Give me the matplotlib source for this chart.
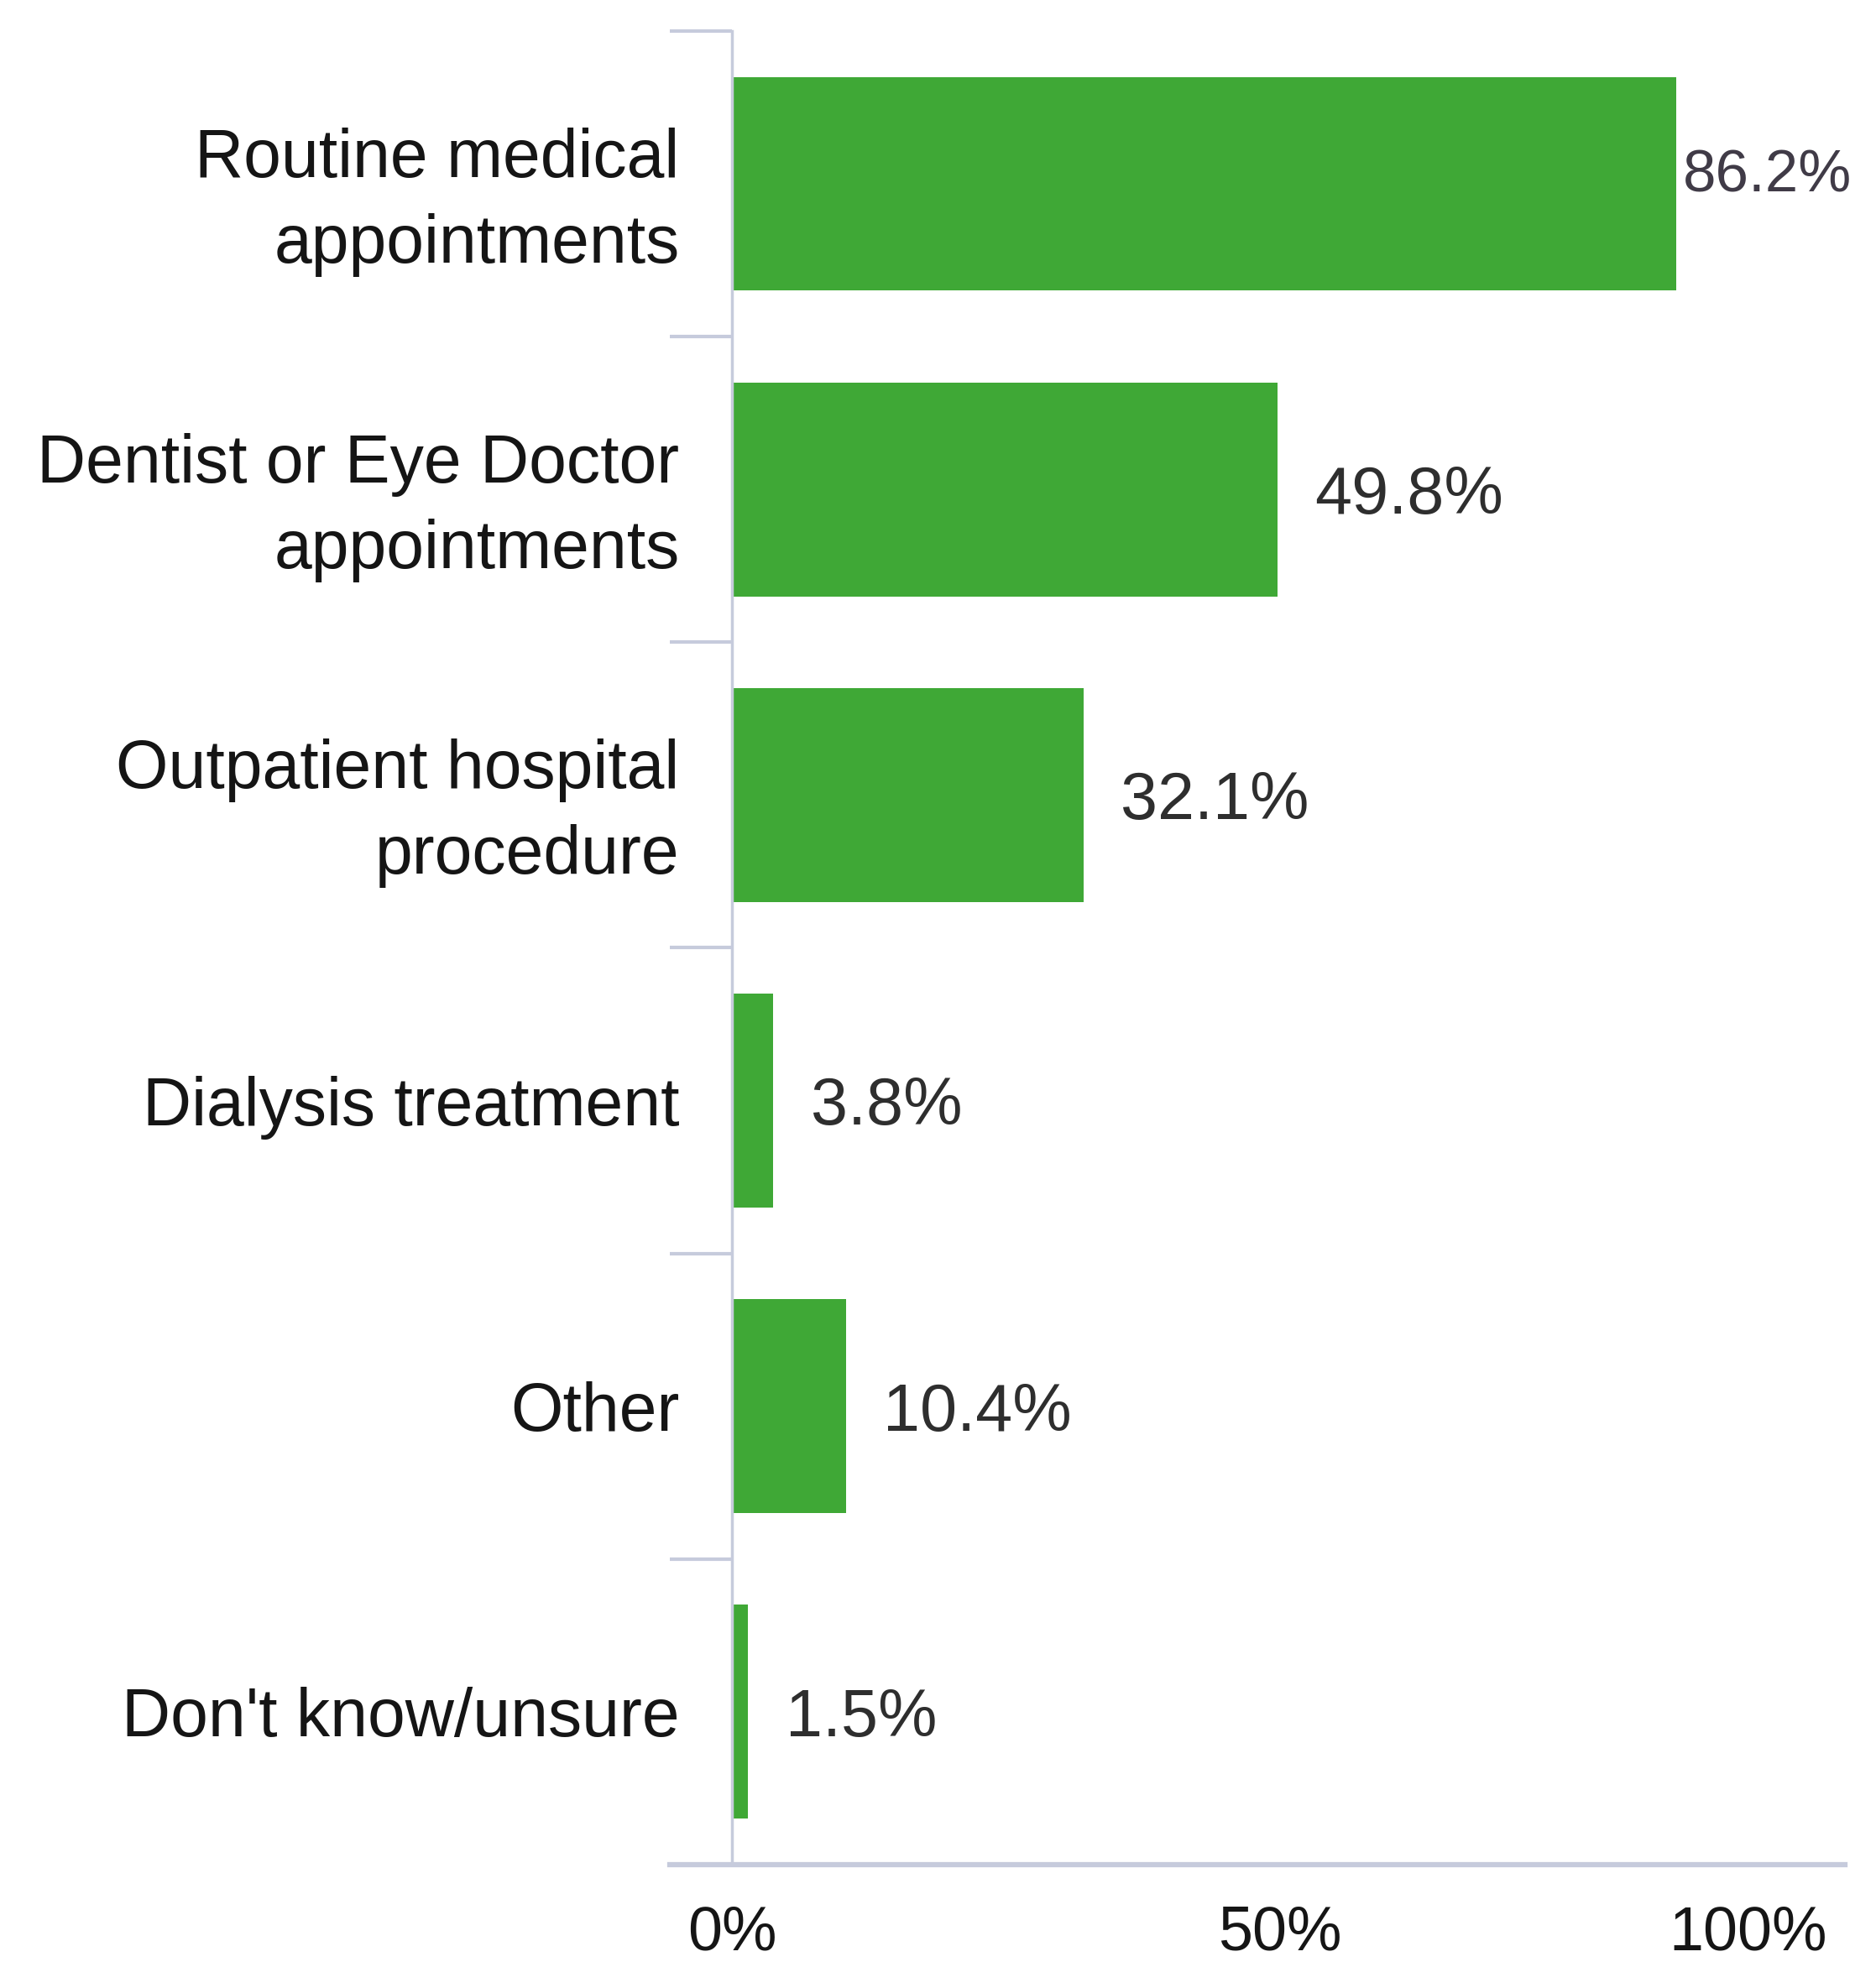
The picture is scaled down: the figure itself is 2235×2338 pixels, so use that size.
import matplotlib
matplotlib.use("Agg")
import matplotlib.pyplot as plt
import numpy as np

# Survey responses (share of respondents, %)
categories = [
    "Routine medical\nappointments",
    "Dentist or Eye Doctor\nappointments",
    "Outpatient hospital\nprocedure",
    "Dialysis treatment",
    "Other",
    "Don't know/unsure",
]
values = [86.2, 49.8, 32.1, 3.8, 10.4, 1.5]
value_labels = ["86.2%", "49.8%", "32.1%", "3.8%", "10.4%", "1.5%"]
x_ticks = [0, 50, 100]
x_tick_labels = ["0%", "50%", "100%"]

BAR_COLOR = "#3fa836"
AXIS_COLOR = "#c6cbdc"
FONT = ["Liberation Sans", "DejaVu Sans"]

plt.rcParams["font.family"] = FONT

fig = plt.figure(figsize=(22.35, 23.38), dpi=100)
ax = fig.add_axes([0.357, 0.0496, 0.6264, 0.9346])

y = np.arange(len(categories))
ax.barh(y, values, height=0.70, color=BAR_COLOR, zorder=2)

ax.set_xlim(-5.67, 101.6)
ax.set_ylim(len(categories) - 0.5, -0.5)

# value labels next to each bar
for i, (v, lab) in enumerate(zip(values, value_labels)):
    if v > 80:
        # squeezed in at the right edge, a bit smaller and higher
        ax.annotate(lab, (v, i), xytext=(6, 6), textcoords="offset points",
                    ha="left", va="center", fontsize=51, color="#403b47")
    else:
        ax.annotate(lab, (v, i), xytext=(32, -6), textcoords="offset points",
                    ha="left", va="center", fontsize=57, color="#2e2e2e")

# spines
for s in ["top", "right"]:
    ax.spines[s].set_visible(False)
ax.spines["left"].set_position(("data", 0))
ax.spines["left"].set_color(AXIS_COLOR)
ax.spines["left"].set_linewidth(2.5)
ax.spines["bottom"].set_color(AXIS_COLOR)
ax.spines["bottom"].set_linewidth(4.5)

# category labels at bar centres, separators as minor ticks
ax.set_yticks(y)
ax.set_yticklabels(categories, fontsize=58, color="#151515", linespacing=1.45)
ax.tick_params(axis="y", which="major", length=0, pad=45)
ax.set_yticks(np.arange(len(categories) + 1) - 0.5, minor=True)
ax.tick_params(axis="y", which="minor", length=53, width=3, color=AXIS_COLOR,
               direction="out")

ax.set_xticks(x_ticks)
ax.set_xticklabels(x_tick_labels, fontsize=53, color="#151515")
ax.tick_params(axis="x", length=0, pad=34)
ax.get_xticklabels()[-1].set_horizontalalignment("right")

fig.savefig("out.png", dpi=100, facecolor="white")
